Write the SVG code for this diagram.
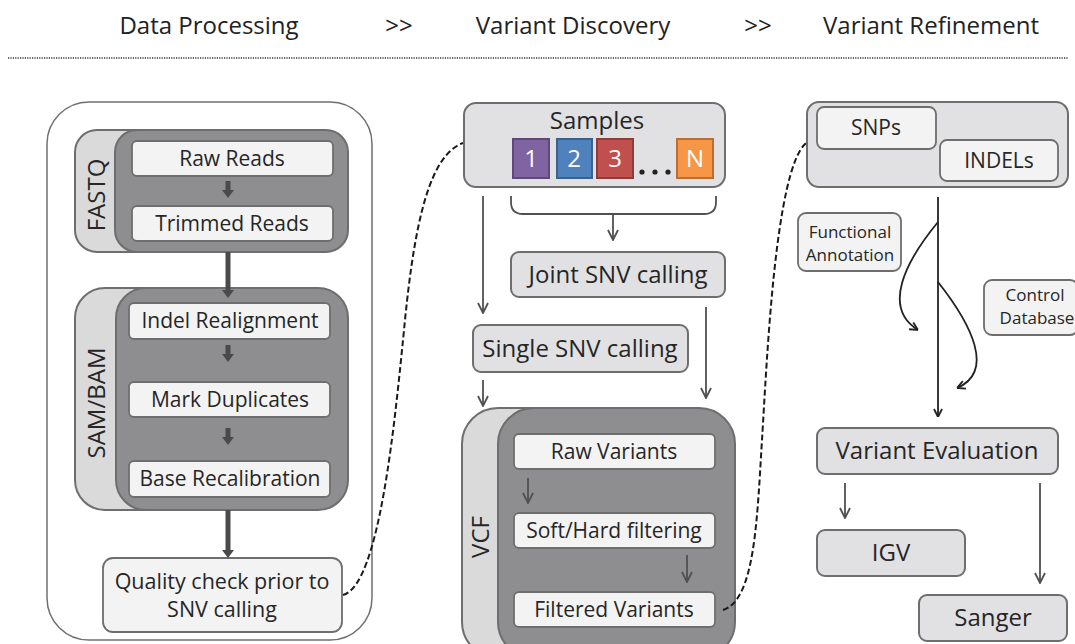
<svg xmlns="http://www.w3.org/2000/svg" width="1075" height="644" viewBox="0 0 1075 644">
<defs>
<style>
text{font-family:"Open Sans","Liberation Sans",sans-serif;fill:#262626;text-anchor:middle}
.hdr{font-size:24px;fill:#222}
.box{fill:#E1E1E3;stroke:#6E6E6E;stroke-width:2}
.inner{fill:#F3F3F3;stroke:#6E6E6E;stroke-width:1.8}
.dark{fill:#8E8E90;stroke:#6E6E6E;stroke-width:2}
.tab{fill:#DADADB;stroke:#6E6E6E;stroke-width:2}
.panel{fill:#FFFFFF;stroke:#707070;stroke-width:1.5}
.t21{font-size:21px}
.tv{font-size:24px}
.t24{font-size:24px}
.t17{font-size:17px}
.thin{stroke:#505050;stroke-width:1.8;fill:none;marker-end:url(#v)}
.thick{stroke:#4A4A4A;stroke-width:5;fill:none}
.dash{stroke:#1A1A1A;stroke-width:2;fill:none;stroke-dasharray:6 3}
.sq{stroke-width:2}
.sqt{font-size:24px;fill:#fff}
</style>
<marker id="v" viewBox="0 0 12 12" refX="11" refY="6" markerWidth="12" markerHeight="12" markerUnits="userSpaceOnUse" orient="auto">
<path d="M1,1 L11,6 L1,11" fill="none" stroke="#505050" stroke-width="1.8"/>
</marker>
<marker id="k" viewBox="0 0 10 10" refX="10" refY="5" markerWidth="10" markerHeight="10" markerUnits="userSpaceOnUse" orient="auto">
<path d="M2,1 L10,5 L2,9" fill="none" stroke="#222" stroke-width="1.8"/>
</marker>
</defs>

<g id="header">
<text class="hdr" x="209" y="34">Data Processing</text>
<text class="hdr" x="399" y="34">&gt;&gt;</text>
<text class="hdr" x="573" y="34">Variant Discovery</text>
<text class="hdr" x="758" y="34">&gt;&gt;</text>
<text class="hdr" x="931" y="34">Variant Refinement</text>
<line x1="8" y1="58" x2="1068" y2="58" stroke="#333" stroke-width="1.6" stroke-dasharray="1.2 1.2"/>
</g>

<g id="data-processing-panel">
<rect class="panel" x="47" y="102" width="325" height="538" rx="42"/>
</g>

<g id="fastq-group">
<rect class="tab" x="75" y="130" width="150" height="122" rx="22"/>
<rect class="dark" x="115" y="130" width="233" height="122" rx="22"/>
<text class="tv" transform="translate(105,195) rotate(-90)">FASTQ</text>
</g>
<g id="raw-reads"><rect class="inner" x="132" y="141" width="201" height="35" rx="5"/><text class="t21" x="232" y="166">Raw Reads</text></g>
<g id="trimmed-reads"><rect class="inner" x="132" y="206" width="201" height="35" rx="5"/><text class="t21" x="232" y="231">Trimmed Reads</text></g>

<g id="sambam-group">
<rect class="tab" x="75" y="288" width="150" height="222" rx="30"/>
<rect class="dark" x="116" y="288" width="232" height="222" rx="30"/>
<text class="tv" transform="translate(105,403) rotate(-90)">SAM/BAM</text>
</g>
<g id="indel-realignment"><rect class="inner" x="129" y="303" width="201" height="36" rx="5"/><text class="t21" x="230" y="328">Indel Realignment</text></g>
<g id="mark-duplicates"><rect class="inner" x="129" y="382" width="201" height="35" rx="5"/><text class="t21" x="230" y="407">Mark Duplicates</text></g>
<g id="base-recalibration"><rect class="inner" x="129" y="461" width="201" height="36" rx="5"/><text class="t21" x="230" y="486">Base Recalibration</text></g>

<g id="quality-check"><rect class="inner" x="103" y="558" width="239" height="74" rx="10"/><text x="222" y="589" style="font-size:21.5px">Quality check prior to</text><text x="222" y="617" style="font-size:21.5px">SNV calling</text></g>

<g id="samples">
<rect class="box" x="464" y="103" width="261" height="84" rx="12"/>
<text class="t24" x="597" y="129">Samples</text>
<rect class="sq" x="513" y="139" width="36" height="39" fill="#8064A2" stroke="#5E4A7A"/>
<text class="sqt" x="531" y="167">1</text>
<rect class="sq" x="557" y="139" width="35" height="39" fill="#4F81BD" stroke="#3A6290"/>
<text class="sqt" x="574" y="167">2</text>
<rect class="sq" x="597" y="139" width="36" height="39" fill="#C0504D" stroke="#8E3B39"/>
<text class="sqt" x="615" y="167">3</text>
<circle cx="642" cy="172" r="2.6" fill="#222"/><circle cx="655" cy="172" r="2.6" fill="#222"/><circle cx="668" cy="172" r="2.6" fill="#222"/>
<rect class="sq" x="677" y="139" width="36" height="39" fill="#F79646" stroke="#B96F33"/>
<text class="sqt" x="695" y="167">N</text>
</g>
<g id="joint-snv"><rect class="box" x="511" y="252" width="214" height="45" rx="8"/><text class="t24" x="618" y="283">Joint SNV calling</text></g>
<g id="single-snv"><rect class="box" x="473" y="325" width="215" height="47" rx="8"/><text class="t24" x="580" y="357">Single SNV calling</text></g>

<g id="vcf-group">
<rect class="tab" x="462" y="408" width="160" height="250" rx="36"/>
<rect class="dark" x="498" y="408" width="237" height="250" rx="36"/>
<text class="tv" transform="translate(489,537) rotate(-90)">VCF</text>
</g>
<g id="raw-variants"><rect class="inner" x="514" y="434" width="201" height="35" rx="5"/><text class="t21" x="614" y="459">Raw Variants</text></g>
<g id="soft-hard-filtering"><rect class="inner" x="514" y="513" width="201" height="35" rx="5"/><text class="t21" x="614" y="538">Soft/Hard filtering</text></g>
<g id="filtered-variants"><rect class="inner" x="514" y="592" width="201" height="35" rx="5"/><text class="t21" x="614" y="617">Filtered Variants</text></g>

<g id="snps-indels">
<rect class="box" x="807" y="102" width="261" height="85" rx="12"/>
</g>
<g id="snps"><rect class="inner" x="817" y="107" width="119" height="42" rx="7"/><text class="t21" x="876" y="135">SNPs</text></g>
<g id="indels"><rect class="inner" x="940" y="140" width="118" height="41" rx="7"/><text class="t21" x="999" y="168">INDELs</text></g>
<g id="functional-annotation"><rect class="inner" x="798" y="213" width="103" height="58" rx="8"/><text class="t17" x="850" y="238">Functional</text><text class="t17" x="850" y="261">Annotation</text></g>
<g id="control-database"><rect class="inner" x="984" y="280" width="94" height="55" rx="8"/><text class="t17" x="1035" y="301">Control</text><text class="t17" x="1037" y="324">Database</text></g>
<g id="variant-evaluation"><rect class="box" x="817" y="428" width="241" height="46" rx="8"/><text class="t24" x="937" y="459">Variant Evaluation</text></g>
<g id="igv"><rect class="box" x="817" y="530" width="148" height="46" rx="8"/><text class="t24" x="891" y="561">IGV</text></g>
<g id="sanger"><rect class="box" x="919" y="595" width="148" height="46" rx="8"/><text class="t24" x="993" y="626">Sanger</text></g>

<g id="connectors">
<line class="thick" x1="228" y1="181" x2="228" y2="191" stroke-width="6"/>
<path d="M222,190 L234,190 L228,198 Z" fill="#4A4A4A"/>
<line class="thick" x1="228" y1="252" x2="228" y2="291"/>
<path d="M222,290 L234,290 L228,298 Z" fill="#4A4A4A"/>
<line class="thick" x1="228" y1="345" x2="228" y2="355" stroke-width="6"/>
<path d="M222,354 L234,354 L228,362 Z" fill="#4A4A4A"/>
<line class="thick" x1="228" y1="428" x2="228" y2="438" stroke-width="6"/>
<path d="M222,437 L234,437 L228,445 Z" fill="#4A4A4A"/>
<line class="thick" x1="228" y1="510" x2="228" y2="551"/>
<path d="M222,550 L234,550 L228,558 Z" fill="#4A4A4A"/>
<path class="dash" d="M343,595 C380,585 395,420 405,320 S430,155 463,143"/>
<path class="dash" d="M723,610 C755,600 757,520 762,440 S775,170 806,143"/>
<line class="thin" x1="483" y1="196" x2="483" y2="313"/>
<path d="M511,196 L511,202 Q511,214 523,214 L704,214 Q716,214 716,202 L716,196" fill="none" stroke="#505050" stroke-width="1.8"/>
<line class="thin" x1="613" y1="214" x2="613" y2="240"/>
<line class="thin" x1="706" y1="307" x2="706" y2="398"/>
<line class="thin" x1="483" y1="380" x2="483" y2="406"/>
<line class="thin" x1="528" y1="478" x2="528" y2="503"/>
<line class="thin" x1="687" y1="555" x2="687" y2="582"/>
<line x1="938" y1="197" x2="938" y2="417" stroke="#222" stroke-width="1.8" marker-end="url(#k)"/>
<path d="M938,222 C905,262 882,308 918,330" fill="none" stroke="#222" stroke-width="1.8" marker-end="url(#k)"/>
<path d="M938,282 C972,325 995,372 957,388" fill="none" stroke="#222" stroke-width="1.8" marker-end="url(#k)"/>
<line class="thin" x1="845" y1="483" x2="845" y2="518"/>
<line class="thin" x1="1040" y1="483" x2="1040" y2="583"/>
</g>
</svg>
